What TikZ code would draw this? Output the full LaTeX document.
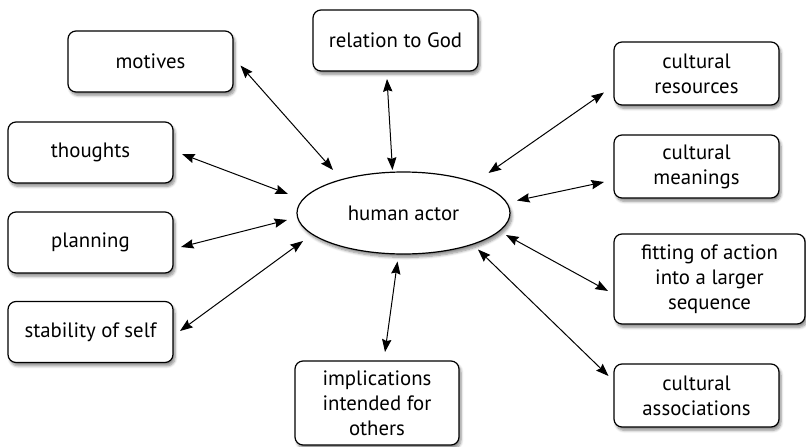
\documentclass[tikz,border=0pt]{standalone}
\usepackage{fontspec}
\setmainfont{PT Sans}
\usetikzlibrary{arrows.meta,calc,shapes.geometric,shadows.blur}
\def\u{0.75pt}
\tikzset{
  box/.style={draw, line width=0.9pt, rounded corners=6pt, fill=white, align=center,
    minimum width=165*\u, minimum height=61*\u, inner sep=1pt,
    font=\fontsize{15.6}{18.75}\selectfont,
    blur shadow={shadow xshift=1.5pt, shadow yshift=-2.5pt, shadow blur steps=6, shadow opacity=45}},
  hub/.style={draw, ellipse, line width=0.9pt, fill=white, minimum width=213*\u, minimum height=82*\u,
    inner sep=0pt, font=\fontsize{15.6}{18.75}\selectfont,
    blur shadow={shadow xshift=1.5pt, shadow yshift=-2.5pt, shadow blur steps=6, shadow opacity=45}},
  tip/.tip={Stealth[length=9.5pt,width=7pt,inset=1.2pt]},
  arr/.style={line width=0.75pt, tip-tip}
}
\begin{document}
\begin{tikzpicture}[x=0.75pt,y=-0.75pt]
\useasboundingbox (0,0) rectangle (806,446);
\node[hub] (ha) at (403.5,213) {human actor};
\node[box] (motives) at (150.5,61.5) {motives};
\node[box] (thoughts) at (90.5,152.5) {thoughts};
\node[box] (planning) at (90.5,242.5) {planning};
\node[box] (stability) at (90.5,332) {stability of self};
\node[box] (relation) at (395.5,40.5) {relation to God};
\node[box, minimum height=63*\u] (resources) at (696.5,73.5) {cultural\\resources};
\node[box, minimum height=63*\u] (meanings) at (696.5,166.5) {cultural\\meanings};
\node[box, minimum width=191*\u, minimum height=90*\u] (fitting) at (709.5,279) {fitting of action\\into a larger\\sequence};
\node[box, minimum height=63*\u] (associations) at (696.5,395.5) {cultural\\associations};
\node[box, minimum width=164*\u, minimum height=84*\u] (implications) at (377,403) {implications\\intended for\\others};

\draw[arr] ($(motives.center)+(90,4)$) -- ($(ha.center)+(-70.5,-43)$);
\draw[arr] ($(thoughts.center)+(91.5,1.5)$) -- ($(ha.center)+(-115.5,-19)$);
\draw[arr] ($(planning.center)+(90.5,4.5)$) -- ($(ha.center)+(-116.5,7)$);
\draw[arr] ($(stability.center)+(89.5,-1)$) -- ($(ha.center)+(-100.5,28)$);
\draw[arr] ($(relation.center)+(-8.5,38.5)$) -- ($(ha.center)+(-11,-43)$);
\draw[arr] ($(resources.center)+(-92.5,19)$) -- ($(ha.center)+(85,-40)$);
\draw[arr] ($(meanings.center)+(-92.5,15.5)$) -- ($(ha.center)+(113.5,-12.5)$);
\draw[arr] ($(fitting.center)+(-101.5,12)$) -- ($(ha.center)+(102.5,22)$);
\draw[arr] ($(associations.center)+(-88,-19.5)$) -- ($(ha.center)+(74.5,36.5)$);
\draw[arr] ($(implications.center)+(8,-51)$) -- ($(ha.center)+(-6,48.5)$);
\end{tikzpicture}
\end{document}
